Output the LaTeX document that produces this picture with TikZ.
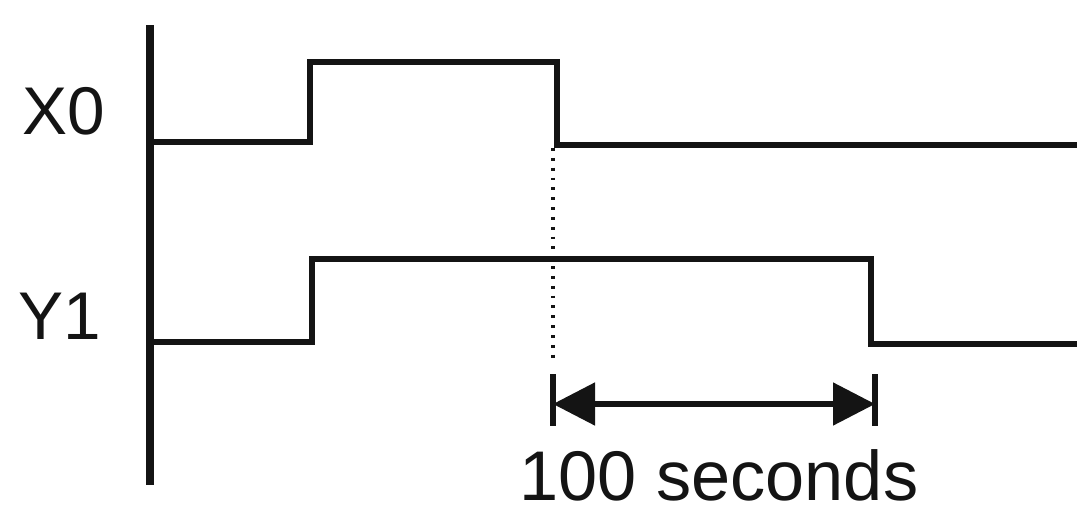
\documentclass[tikz,border=0pt]{standalone}
\usepackage{fontspec}
\setmainfont{Liberation Sans}
\usepackage{tikz}
\usetikzlibrary{arrows.meta, positioning}
\definecolor{mydark}{RGB}{20,20,20}
\tikzset{
  signal/.style={line width=4.3pt, color=mydark, line join=miter},
  axisline/.style={line width=5pt, color=mydark},
  siglabel/.style={font=\fontsize{48}{56}\selectfont, color=mydark},
  dimarrow/.style={{Triangle[length=1.05cm,width=1.05cm]}-{Triangle[length=1.05cm,width=1.05cm]}, line width=3.6pt, color=mydark},
  dimtick/.style={line width=3.6pt, color=mydark},
  guide/.style={line width=2.4pt, color=mydark, dash pattern=on 2pt off 5pt}
}
\begin{document}
\begin{tikzpicture}[x=0.025cm, y=-0.025cm]
  \useasboundingbox (0,0) rectangle (1077,506);

  % Axis
  \draw[axisline] (150,25) -- (150,485);

  % X0
  \node[siglabel] (lblx) at (64,111) {X0};
  \coordinate (xa) at (150,142);
  \coordinate (xb) at (310,142);
  \coordinate (xc) at (310,62);
  \coordinate (xd) at (557,62);
  \coordinate (xe) at (557,145);
  \coordinate (xf) at (1080,145);
  \draw[signal] (xa) -- (xb) -- (xc) -- (xd) -- (xe) -- (xf);

  % Y1
  \node[siglabel] (lbly) at (60,316) {Y1};
  \coordinate (ya) at (150,342);
  \coordinate (yb) at (312,342);
  \coordinate (yc) at (312,259);
  \coordinate (yd) at (871,259);
  \coordinate (ye) at (871,344);
  \coordinate (yf) at (1080,344);
  \draw[signal] (ya) -- (yb) -- (yc) -- (yd) -- (ye) -- (yf);

  % Delay
  \coordinate (ds) at (553,404);
  \coordinate (de) at (875,404);
  \draw[guide] (553,148) -- (553,360);
  \draw[dimtick] (553,374) -- (553,426);
  \draw[dimtick] (875,374) -- (875,426);
  \draw[dimarrow] (ds) -- (de);
  \node[font=\fontsize{50}{60}\selectfont, color=mydark, anchor=base, inner sep=0pt] (lbld) at (719,500) {100 seconds};
\end{tikzpicture}
\end{document}
